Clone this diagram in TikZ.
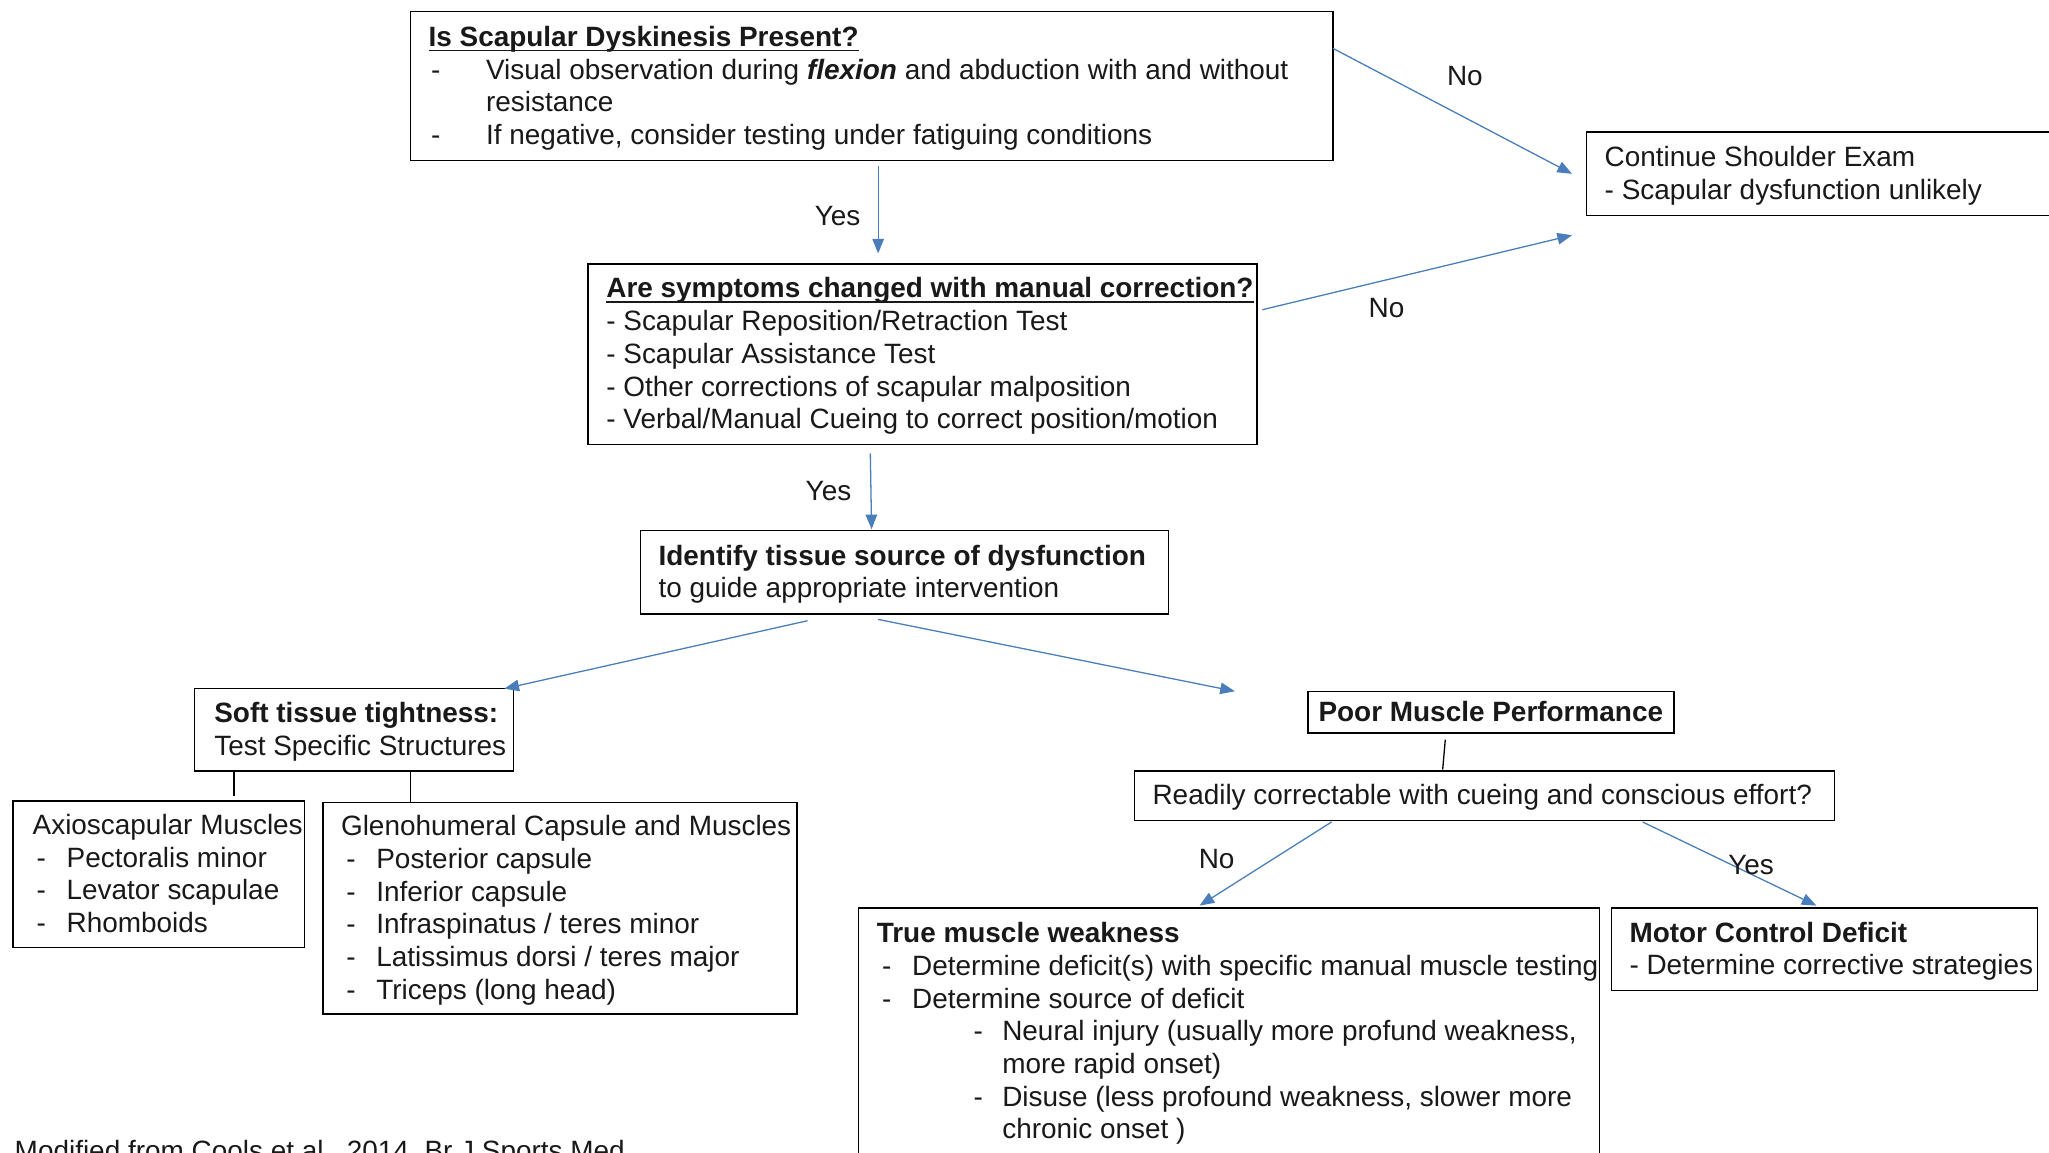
\documentclass[tikz,border=0pt]{standalone}
\usepackage{fontspec}
\setmainfont{Liberation Sans}
\usetikzlibrary{arrows.meta,calc}
\newlength\upx \setlength\upx{0.025cm}
\definecolor{arrblue}{RGB}{74,126,187}
\newcommand{\bt}[3][2\upx]{\makebox[#2][l]{\raisebox{-#1}[\height][\depth]{\begin{tabular}{@{}l@{}}#3\end{tabular}}}}
\newcommand{\dsh}[2]{\hspace*{#1}\makebox[#2][l]{-}}
\newcommand{\myul}[1]{\setbox0=\hbox{#1}\rlap{\rule[-2.6pt]{\wd0}{0.75pt}}\box0}
\begin{document}
\begin{tikzpicture}[x=0.025cm,y=-0.025cm,
 every node/.style={font=\fontsize{15.2pt}{17.8pt}\selectfont, text=black!90},
 box/.style={draw=black, line width=0.8pt, anchor=north west, inner ysep=0pt, outer sep=0pt},
 arr/.style={draw=arrblue, line width=0.7pt, -{Triangle[length=0.28cm,width=0.22cm]}},
 lnk/.style={draw=black, line width=0.7pt},
 lab/.style={inner sep=0pt}]
\useasboundingbox (0,0) rectangle (1568,882);
\fill[white] (0,0) rectangle (1568,882);

% boxes
\node[box, minimum width=706\upx, minimum height=114\upx, inner xsep=14\upx] (q1) at (314,9)
 {\bt{678\upx}{\myul{\textbf{Is Scapular Dyskinesis Present?}}\\
 \dsh{2\upx}{42\upx}Visual observation during \textbf{\textit{flexion}} and abduction with and without\\
 \hspace*{44\upx}resistance\\
 \dsh{2\upx}{42\upx}If negative, consider testing under fatiguing conditions}};

\node[box, minimum width=420\upx, minimum height=64\upx, inner xsep=14\upx] (q2) at (1214,101)
 {\bt{392\upx}{Continue Shoulder Exam\\- Scapular dysfunction unlikely}};

\node[box, minimum width=512\upx, minimum height=138\upx, inner xsep=14\upx] (q3) at (450,202)
 {\bt{484\upx}{\myul{\textbf{Are symptoms changed with manual correction?}}\\
 - Scapular Reposition/Retraction Test\\
 - Scapular Assistance Test\\
 - Other corrections of scapular malposition\\
 - Verbal/Manual Cueing to correct position/motion}};

\node[box, minimum width=404\upx, minimum height=64\upx, inner xsep=14\upx] (q4) at (490,406)
 {\bt{376\upx}{\textbf{Identify tissue source of dysfunction}\\to guide appropriate intervention}};

\node[box, minimum width=244\upx, minimum height=63\upx, inner xsep=15\upx] (q5) at (149,527)
 {\bt{214\upx}{\textbf{Soft tissue tightness:}\\Test Specific Structures}};

\node[box, minimum width=223\upx, minimum height=112\upx, inner xsep=15\upx] (q6) at (10,613)
 {\bt{193\upx}{Axioscapular Muscles\\
 \dsh{3\upx}{23\upx}Pectoralis minor\\
 \dsh{3\upx}{23\upx}Levator scapulae\\
 \dsh{3\upx}{23\upx}Rhomboids}};

\node[box, minimum width=363\upx, minimum height=162\upx, inner xsep=14\upx] (q7) at (247,614)
 {\bt{335\upx}{Glenohumeral Capsule and Muscles\\
 \dsh{4\upx}{23\upx}Posterior capsule\\
 \dsh{4\upx}{23\upx}Inferior capsule\\
 \dsh{4\upx}{23\upx}Infraspinatus / teres minor\\
 \dsh{4\upx}{23\upx}Latissimus dorsi / teres major\\
 \dsh{4\upx}{23\upx}Triceps (long head)}};

\node[box, minimum width=280\upx, minimum height=32\upx, inner xsep=8\upx] (q8) at (1001,529)
 {\bt{264\upx}{\textbf{Poor Muscle Performance}}};

\node[box, minimum width=536\upx, minimum height=38\upx, inner xsep=14\upx] (q9) at (868,590)
 {\bt{508\upx}{Readily correctable with cueing and conscious effort?}};

\node[box, minimum width=567\upx, minimum height=235\upx, inner xsep=14\upx] (q10) at (657,695)
 {\bt[4\upx]{539\upx}{\textbf{True muscle weakness}\\
 \dsh{4\upx}{23\upx}Determine deficit(s) with specific manual muscle testing\\
 \dsh{4\upx}{23\upx}Determine source of deficit\\
 \dsh{74\upx}{22\upx}Neural injury (usually more profund weakness,\\
 \hspace*{96\upx}more rapid onset)\\
 \dsh{74\upx}{22\upx}Disuse (less profound weakness, slower more\\
 \hspace*{96\upx}chronic onset )\\ ~\\ ~}};

\node[box, minimum width=326\upx, minimum height=63\upx, inner xsep=14\upx] (q11) at (1233,695)
 {\bt{298\upx}{\textbf{Motor Control Deficit}\\- Determine corrective strategies}};

% arrows
\draw[arr] ($(q1.north east)+(0,28)$) -- ($(q2.west)+(-11,0)$);
\draw[arr] ($(q1.south)+(5,4)$) -- ($(q3.north)+(-34,-8)$);
\draw[arr] ($(q3.north east)+(4,35)$) -- ($(q2.south west)+(-11,15)$);
\draw[arr] ($(q3.south)+(-40,7)$) -- ($(q4.north)+(-25,-1)$);
\draw[arr] ($(q4.south)+(-74,5)$) -- ($(q5.north east)+(-7,0)$);
\draw[arr] ($(q4.south)+(-20,4)$) -- ($(q8.north west)+(-56,0)$);
\draw[arr] ($(q9.south west)+(151,1)$) -- ($(q10.north west)+(261,-2)$);
\draw[arr] ($(q9.south east)+(-147,1)$) -- ($(q11.north)+(-6,-2)$);

% plain links
\draw[lnk] ($(q5.south west)+(30,0)$) -- ($(q6.north west)+(169,-4)$);
\draw[lnk] ($(q5.south west)+(165,0)$) -- ($(q7.north west)+(67,0)$);
\draw[lnk] ($(q8.south)+(-35,5)$) -- ($(q9.north)+(-32,-1)$);

% labels
\node[lab] (l1) at (1121,58) {No};
\node[lab] (l2) at (641,165) {Yes};
\node[lab] (l3) at (1061,236) {No};
\node[lab] (l4) at (634,376) {Yes};
\node[lab] (l5) at (931,657) {No};
\node[lab] (l6) at (1340,662) {Yes};

\node[lab, anchor=base west] (foot) at (11,888) {Modified from Cools et al., 2014, Br J Sports Med};
\end{tikzpicture}
\end{document}
